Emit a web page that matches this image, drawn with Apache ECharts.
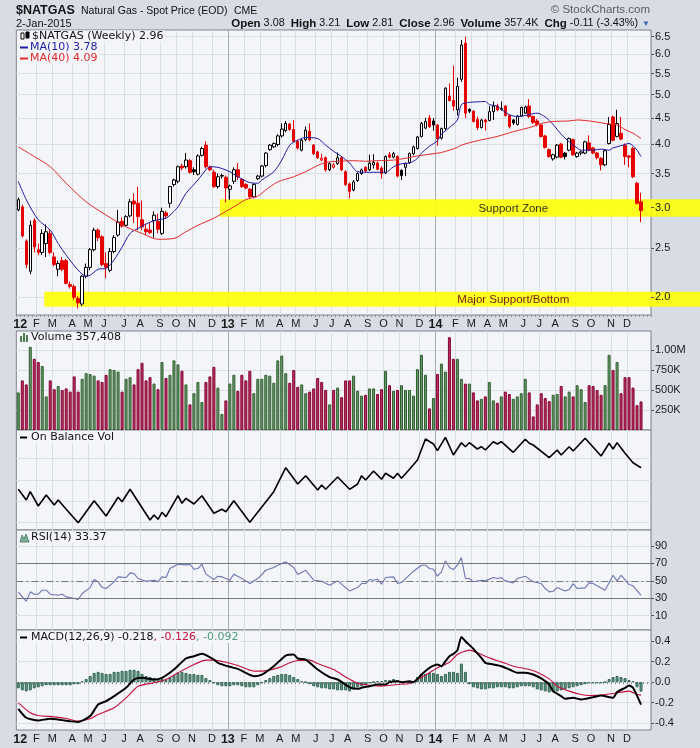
<!DOCTYPE html>
<html><head><meta charset="utf-8">
<script src="https://cdn.jsdelivr.net/npm/echarts@6/dist/echarts.min.js"></script>
<style>html,body{margin:0;padding:0;background:#d7dce5}#c{width:700px;height:748px}</style>
</head><body><div id="c"></div>
<script>
// ---- weekly OHLC, week 0 = 6-Jan-2012 ... week 156 = 2-Jan-2015
const opens = [2.97,3.01,2.58,2.25,2.83,2.48,2.45,2.55,2.67,2.40, 2.27,2.36,2.36,2.12,2.10,1.99,1.94,2.20,2.29,2.48, 2.71,2.63,2.33,2.26,2.46,2.65,2.82,2.77,2.89,3.09, 3.06,2.84,2.72,2.71,2.83,2.82,2.67,2.93,3.06,3.33, 3.38,3.62,3.61,3.71,3.56,3.49,3.80,3.98,3.60,3.52, 3.30,3.47,3.44,3.26,3.38,3.56,3.41,3.33,3.26,3.15, 3.42,3.46,3.63,3.90,3.95,3.99,4.15,4.25,4.38,4.27, 4.05,3.89,4.08,4.24,3.98,3.86,3.72,3.76,3.56,3.60, 3.66,3.76,3.53,3.34,3.25,3.39,3.50,3.60,3.56,3.64, 3.67,3.59,3.51,3.81,3.77,3.78,3.55,3.60,3.68,3.83, 3.92,4.14,4.30,4.50,4.44,4.36,4.11,4.29,4.97,4.87, 4.67,5.36,6.31,4.68,4.64,4.47,4.31,4.46,4.45,4.63, 4.75,4.68,4.75,4.55,4.46,4.37,4.54,4.60,4.75,4.53, 4.44,4.36,4.15,3.90,3.74,3.77,4.00,3.84,3.89,4.08, 3.78,3.84,3.84,4.02,3.93,3.84,3.75,3.64,4.01,4.52, 4.14,4.20,3.98,3.79,3.92,3.35,3.08];
const closes = [3.11,2.64,2.32,2.77,2.51,2.45,2.67,2.69,2.45,2.32, 2.33,2.27,2.13,2.10,2.00,1.95,2.20,2.29,2.48,2.71, 2.62,2.32,2.29,2.46,2.62,2.81,2.76,2.88,3.08,3.05, 2.88,2.75,2.69,2.68,2.90,2.72,2.95,2.89,3.30,3.40, 3.61,3.59,3.72,3.52,3.53,3.79,3.92,3.61,3.56,3.30, 3.45,3.46,3.28,3.31,3.56,3.45,3.30,3.28,3.15,3.33, 3.46,3.62,3.84,3.98,4.01,4.15,4.28,4.39,4.27,4.05, 3.93,4.07,4.26,4.08,3.83,3.76,3.75,3.56,3.66,3.64, 3.76,3.56,3.33,3.23,3.37,3.50,3.56,3.54,3.67,3.68, 3.57,3.50,3.78,3.77,3.83,3.46,3.47,3.66,3.83,3.95, 4.13,4.39,4.43,4.33,4.36,4.10,4.29,5.15,4.87,4.75, 5.19,6.26,4.60,4.64,4.43,4.31,4.46,4.42,4.63,4.75, 4.67,4.70,4.55,4.33,4.40,4.54,4.72,4.73,4.53,4.41, 4.37,4.14,3.94,3.78,3.81,3.98,3.77,3.78,4.10,3.81, 3.84,3.86,4.04,3.89,3.84,3.76,3.64,3.88,4.37,4.07, 4.39,4.09,3.78,3.77,3.45,3.06,2.96];
const lows = [2.95,2.62,2.28,2.22,2.45,2.42,2.42,2.40,2.43,2.30, 2.20,2.25,2.12,2.08,1.98,1.90,1.92,2.18,2.26,2.46, 2.58,2.30,2.18,2.24,2.44,2.63,2.74,2.75,2.87,2.80, 2.71,2.71,2.65,2.66,2.62,2.67,2.65,2.85,3.00,3.30, 3.35,3.55,3.58,3.50,3.48,3.47,3.78,3.58,3.54,3.28, 3.27,3.42,3.07,3.11,3.34,3.40,3.28,3.26,3.13,3.13, 3.40,3.44,3.60,3.88,3.93,3.96,4.12,4.22,4.25,4.03, 3.90,3.87,4.05,4.05,3.81,3.74,3.70,3.53,3.54,3.58, 3.64,3.54,3.31,3.13,3.23,3.37,3.48,3.52,3.54,3.58, 3.55,3.42,3.49,3.75,3.75,3.44,3.40,3.46,3.66,3.80, 3.90,4.12,4.28,4.30,4.25,3.97,4.08,4.25,4.85,4.65, 4.55,5.30,4.50,4.60,4.41,4.26,4.29,4.25,4.43,4.46, 4.64,4.65,4.53,4.29,4.36,4.35,4.52,4.58,4.50,4.38, 4.33,4.12,3.92,3.76,3.71,3.75,3.75,3.73,3.87,3.79, 3.76,3.80,3.82,3.87,3.82,3.73,3.55,3.62,3.99,4.05, 4.12,4.07,3.64,3.60,3.43,3.04,2.81];
const highs = [3.14,3.04,2.60,2.83,2.86,2.55,2.72,2.78,2.72,2.45, 2.36,2.40,2.38,2.15,2.12,2.01,2.21,2.33,2.50,2.74, 2.73,2.65,2.45,2.50,2.65,2.97,2.87,2.90,3.12,3.20, 3.30,3.10,2.79,2.80,2.95,2.92,3.00,2.96,3.31,3.42, 3.63,3.66,3.84,3.74,3.60,3.82,3.95,4.05,3.63,3.56, 3.50,3.50,3.47,3.33,3.60,3.67,3.43,3.35,3.28,3.35, 3.48,3.64,3.86,4.00,4.03,4.18,4.39,4.44,4.40,4.46, 4.08,4.10,4.33,4.39,4.00,3.88,3.83,3.78,3.68,3.67, 3.85,3.79,3.55,3.36,3.40,3.52,3.58,3.62,3.81,3.82, 3.70,3.62,3.80,3.86,3.86,3.80,3.57,3.68,3.85,3.97, 4.15,4.42,4.50,4.56,4.50,4.38,4.31,5.17,5.26,5.70, 5.40,6.40,6.50,4.70,4.66,4.53,4.48,4.48,4.75,4.85, 4.80,4.85,4.77,4.57,4.48,4.56,4.74,4.76,4.90,4.55, 4.48,4.38,4.17,3.92,3.83,4.00,4.02,3.86,4.12,4.10, 3.86,3.88,4.06,4.16,3.95,3.86,3.77,3.90,4.52,4.55, 4.67,4.52,4.01,3.81,3.95,3.37,3.21];
// weekly volume, millions
const volumes = [0.47,0.62,0.57,1.04,0.89,0.85,0.80,0.42,0.62,0.51, 0.55,0.50,0.52,0.48,0.67,0.48,0.64,0.71,0.70,0.68, 0.62,0.60,0.69,0.76,0.75,0.73,0.48,0.64,0.66,0.57, 0.76,0.84,0.62,0.66,0.58,0.51,0.85,0.65,0.69,0.87, 0.82,0.74,0.57,0.32,0.46,0.60,0.35,0.60,0.67,0.79, 0.53,0.20,0.37,0.58,0.69,0.49,0.69,0.62,0.74,0.46, 0.64,0.64,0.69,0.68,0.59,0.87,0.93,0.71,0.59,0.75, 0.54,0.57,0.46,0.48,0.52,0.65,0.60,0.50,0.32,0.50, 0.53,0.41,0.62,0.62,0.68,0.49,0.43,0.44,0.52,0.52, 0.45,0.51,0.74,0.56,0.49,0.50,0.56,0.50,0.50,0.43, 0.76,0.94,0.69,0.27,0.40,0.70,0.83,0.73,1.16,0.89, 0.89,0.64,0.58,0.58,0.47,0.37,0.39,0.42,0.60,0.37, 0.34,0.42,0.48,0.45,0.39,0.42,0.46,0.64,0.47,0.17, 0.32,0.46,0.40,0.36,0.44,0.45,0.55,0.42,0.48,0.42, 0.56,0.51,0.35,0.56,0.55,0.50,0.44,0.56,0.94,0.75, 0.85,0.46,0.66,0.66,0.53,0.31,0.357];
// moving averages: [week, value]
const ma10Pts = [[0,3.38],[2,3.11],[5,2.84],[8,2.71],[10,2.55],[12,2.42],[15,2.26],[17,2.20],[18,2.21],[20,2.27],[22,2.28],[24,2.37],[26,2.51],[28,2.67],[30,2.73],[33,2.81],[35,2.84],[37,2.86],[38,2.90],[40,3.01],[42,3.20],[45,3.40],[47,3.56],[48,3.61],[50,3.60],[53,3.53],[55,3.45],[58,3.36],[60,3.35],[61,3.40],[64,3.53],[66,3.72],[68,3.98],[70,4.07],[72,4.12],[75,4.10],[77,3.98],[79,3.87],[81,3.78],[83,3.67],[85,3.53],[88,3.52],[90,3.52],[92,3.52],[94,3.61],[96,3.66],[98,3.67],[100,3.75],[101,3.84],[103,3.96],[105,4.06],[106,4.18],[108,4.31],[110,4.46],[111,4.78],[113,4.83],[115,4.84],[117,4.85],[118,4.78],[120,4.75],[121,4.68],[123,4.57],[125,4.53],[127,4.55],[129,4.59],[130,4.60],[132,4.52],[134,4.37],[136,4.18],[138,4.04],[140,3.93],[141,3.89],[144,3.89],[146,3.91],[148,3.89],[149,3.93],[151,3.97],[153,4.01],[154,3.97],[155,3.89],[156,3.78]];
const ma40Pts = [[0,3.95],[4,3.78],[8,3.61],[12,3.35],[17,3.08],[22,2.90],[27,2.75],[31,2.67],[35,2.60],[39,2.61],[42,2.69],[45,2.77],[49,2.86],[52,2.95],[54,3.01],[57,3.11],[60,3.16],[62,3.25],[65,3.37],[69,3.45],[72,3.53],[75,3.63],[77,3.68],[80,3.70],[84,3.71],[87,3.70],[90,3.71],[94,3.72],[97,3.75],[100,3.79],[103,3.82],[106,3.85],[110,3.94],[111,3.98],[115,4.06],[120,4.14],[124,4.23],[129,4.33],[131,4.39],[134,4.43],[138,4.44],[140,4.46],[144,4.43],[147,4.39],[150,4.36],[152,4.27],[154,4.20],[156,4.10]];
// On Balance Volume (relative units, millions)
const obvPts = [[0,4.07],[2,3.0],[3,3.83],[5,2.4],[7,3.5],[9,2.5],[10,3.0],[12,2.07],[15,0.73],[19,2.93],[22,1.4],[25,3.27],[26,2.83],[28,4.07],[33,1.0],[34,1.5],[35,1.07],[36,1.77],[37,1.33],[40,3.43],[41,2.67],[42,3.17],[44,2.6],[46,3.43],[49,1.67],[51,2.07],[52,1.83],[54,2.93],[58,0.77],[64,3.83],[67,6.23],[70,4.6],[72,5.43],[75,4.0],[76,4.5],[77,4.07],[80,5.3],[83,4.07],[85,4.6],[86,5.43],[87,5.0],[89,5.9],[91,5.07],[92,5.67],[94,5.17],[95,5.67],[96,5.17],[98,6.07],[100,7.0],[102,9.1],[104,8.6],[105,7.93],[107,9.27],[109,7.5],[111,8.73],[112,8.33],[113,8.73],[115,8.1],[116,8.33],[117,8.0],[119,8.83],[120,8.6],[121,8.83],[124,7.77],[127,9.07],[128,8.67],[129,8.5],[133,7.23],[135,8.0],[136,7.5],[138,8.33],[139,7.9],[142,9.17],[146,7.4],[148,8.67],[149,8.1],[150,8.73],[152,7.67],[154,6.73],[156,6.23]];
const rsiPts = [[0,37.4],[1,31.6],[2,26.7],[3,37.4],[4,34.7],[5,34.7],[6,39.3],[7,39.3],[8,34.7],[10,33.5],[11,34.7],[12,31.6],[13,30.9],[15,28.6],[16,35.5],[18,42.3],[19,51.5],[20,48.9],[21,42.3],[22,41.2],[24,48.9],[25,54.6],[27,53.8],[28,59.2],[29,58.4],[30,52.7],[32,49.6],[34,50.8],[35,48.9],[36,54.6],[37,53.8],[38,64.2],[40,69.1],[42,68.4],[43,69.1],[44,63.4],[45,64.2],[46,69.1],[47,57.7],[49,51.5],[50,55.4],[51,54.6],[53,50.8],[54,57.7],[56,52.7],[57,50],[58,46.9],[60,52.7],[62,62.2],[64,65.3],[65,68.0],[67,71.8],[69,65.3],[70,57.3],[72,62.2],[74,50.8],[76,49.6],[78,45.0],[80,50],[83,38.5],[85,42.3],[86,46.9],[87,46.9],[88,51.5],[89,50.8],[90,51.9],[91,46.2],[92,53.8],[94,54.6],[95,46.9],[96,48.1],[99,61.1],[101,68.0],[102,68.0],[103,64.2],[104,63.4],[105,55.4],[106,60.3],[107,73.0],[108,65.3],[109,63.0],[110,68.0],[111,76.8],[112,52.7],[113,52.7],[114,48.9],[116,50.8],[117,50],[119,53.8],[120,52.7],[121,53.8],[122,50],[124,47.7],[125,52.7],[127,55.4],[129,48.9],[131,46.9],[132,41.2],[133,37.4],[134,38.1],[135,42.3],[137,38.5],[138,40.0],[139,46.9],[140,41.2],[142,42.0],[143,47.7],[144,46.9],[147,39.3],[149,56.5],[150,50],[151,56.5],[153,45.8],[154,44.3],[156,33.37]];
const macdPts = [[0,-0.259],[2,-0.346],[5,-0.372],[8,-0.356],[11,-0.369],[13,-0.379],[15,-0.388],[18,-0.330],[20,-0.217],[22,-0.184],[24,-0.136],[27,-0.055],[29,0.026],[31,0.042],[34,0.026],[36,0.042],[39,0.123],[42,0.230],[44,0.252],[46,0.275],[49,0.220],[50,0.188],[53,0.149],[55,0.129],[59,0.058],[61,0.074],[64,0.155],[67,0.259],[69,0.269],[70,0.230],[72,0.220],[75,0.123],[78,0.049],[80,0.026],[83,-0.05],[85,-0.065],[86,-0.055],[88,-0.039],[90,-0.023],[92,-0.023],[93,0.0],[95,0.01],[96,0],[98,0.01],[99,0],[100,0.032],[101,0.074],[103,0.139],[105,0.172],[106,0.155],[107,0.204],[108,0.252],[109,0.275],[110,0.311],[111,0.44],[112,0.398],[114,0.324],[116,0.236],[117,0.188],[119,0.172],[121,0.155],[123,0.123],[125,0.091],[127,0.091],[129,0.074],[131,0.036],[133,-0.023],[134,-0.087],[136,-0.136],[137,-0.162],[139,-0.152],[141,-0.168],[142,-0.162],[144,-0.146],[146,-0.129],[149,-0.152],[150,-0.097],[152,-0.055],[153,-0.032],[154,-0.055],[156,-0.218]];
const signalPts = [[0,-0.201],[3,-0.298],[5,-0.324],[9,-0.337],[12,-0.353],[15,-0.379],[18,-0.356],[20,-0.314],[24,-0.249],[27,-0.152],[30,-0.039],[34,-0.006],[37,0.026],[40,0.091],[44,0.172],[47,0.214],[49,0.214],[52,0.194],[55,0.162],[59,0.107],[61,0.107],[65,0.139],[68,0.188],[70,0.210],[73,0.214],[75,0.181],[79,0.123],[82,0.05],[85,-0.01],[88,-0.03],[91,-0.039],[95,-0.023],[98,-0.013],[100,0.026],[103,0.091],[105,0.139],[108,0.194],[110,0.269],[113,0.311],[115,0.285],[118,0.236],[121,0.197],[124,0.155],[128,0.123],[130,0.097],[133,0.032],[135,-0.039],[138,-0.087],[141,-0.120],[143,-0.129],[146,-0.126],[149,-0.110],[153,-0.087],[155,-0.12],[156,-0.126]];
const histVals = [-0.06,-0.08,-0.09,-0.08,-0.06,-0.05,-0.04,-0.03,-0.03,-0.03, -0.03,-0.03,-0.03,-0.03,-0.02,-0.02,0.01,0.03,0.06,0.09, 0.10,0.09,0.08,0.08,0.10,0.10,0.11,0.11,0.12,0.12, 0.11,0.08,0.06,0.05,0.04,0.03,0.03,0.02,0.04,0.07, 0.09,0.10,0.09,0.08,0.08,0.07,0.07,0.04,0.02,-0.01, -0.03,-0.04,-0.04,-0.04,-0.03,-0.03,-0.04,-0.05,-0.05,-0.05, -0.03,-0.01,0.02,0.04,0.06,0.07,0.08,0.08,0.07,0.05, 0.03,0.01,0.00,-0.02,-0.04,-0.05,-0.06,-0.06,-0.07,-0.07, -0.08,-0.08,-0.08,-0.09,-0.07,-0.05,-0.04,-0.03,-0.01,0.00, 0.01,0.01,0.02,0.02,0.03,0.02,0.01,0.01,0.00,0.01, 0.05,0.08,0.08,0.09,0.09,0.08,0.06,0.08,0.10,0.10, 0.09,0.18,0.10,-0.02,-0.05,-0.06,-0.07,-0.07,-0.06,-0.06, -0.05,-0.05,-0.05,-0.06,-0.06,-0.05,-0.04,-0.04,-0.04,-0.05, -0.07,-0.08,-0.09,-0.10,-0.10,-0.09,-0.08,-0.07,-0.06,-0.05, -0.04,-0.03,-0.02,-0.01,-0.01,-0.01,-0.01,0.00,0.03,0.05, 0.06,0.05,0.04,0.02,0.01,-0.05,-0.092];
// support zones
const zoneNames = ['Support Zone','Major Support/Bottom'];
const zoneTop = [3.115, 2.051];
const zoneBottom = [2.88, 1.917];
const zoneStart = [51, 7];
const zoneLabelAt = [124, 124];
// tick labels
const priceTicks = [2,2.5,3,3.5,4,4.5,5,5.5,6,6.5];
const volTicks = [0.25,0.5,0.75,1.0];
const obvLines = [0.73,2.87,5.0,7.13];
const rsiTicks = [10,30,50,70,90];
const macdTicks = [-0.4,-0.2,0,0.2,0.4];

// weekly category axis (2 trailing empty slots)
const N = 159;
const cats = [];
for (let k = 0; k < N; k++) { cats.push(new Date(Date.UTC(2012,0,6+7*k)).toISOString().slice(0,10)); }
const nData = closes.length;
function monthStart(i){ if(i<0||i>=nData-1) return false; if(i===0) return true; return cats[i].slice(5,7)!==cats[i-1].slice(5,7); }
function fmtMonth(v){ const m=+v.slice(5,7); return m===1 ? '{y|'+v.slice(2,4)+'}' : 'JFMAMJJASOND'[m-1]; }
const vColors = []; for (let k=0;k<12;k++) vColors.push(k===11?'#a8abb4':'#dcdee5');
const FONT = 'Liberation Sans';
const LF = 'DejaVu Sans';
const PANEL = '#f4f5f9';

function mkX(g, showLabel){
  return {type:'category', gridIndex:g, data:cats, boundaryGap:true,
    axisLine:{show:false},
    axisTick:{show:showLabel, interval:0, length:2, lineStyle:{color:'#8c8f98'}},
    axisLabel:{show:showLabel, interval:(i)=>monthStart(i), formatter:fmtMonth, margin:3, fontSize:11, color:'#1a1a1a', fontFamily:FONT, padding:[0,0,0,4],
      rich:{y:{fontWeight:'bold', fontSize:12.5, fontFamily:FONT, color:'#1a1a1a'}}},
    splitLine:{show:true, interval:(i)=>i>=2 && monthStart(i-1), lineStyle:{color:vColors, width:1}}
  };
}
const hLine = {show:true, lineStyle:{color:'#dcdee5', width:1}};
const rLabel = {fontSize:11, color:'#1a1a1a', fontFamily:FONT, margin:4};

const candleData = opens.map((o,i)=>{
  const c = closes[i];
  const prev = i>0 ? closes[i-1] : o;
  const col = c >= prev ? '#000000' : '#e60000';
  const fill = c >= o ? '#ffffff' : col;
  return {value:[o,c,lows[i],highs[i]], itemStyle:{color:fill,color0:fill,borderColor:col,borderColor0:col,borderWidth:1}};
});
const volData = volumes.map((v,i)=>{
  const up = i===0 ? closes[0]>=opens[0] : closes[i]>=closes[i-1];
  return {value:v, itemStyle:{color: up?'#6b9a6b':'#b73862', borderColor: up?'#2f5f2f':'#860030', borderWidth:1}};
});
const zoneData = zoneNames.map((_,k)=>[zoneStart[k], zoneTop[k], zoneBottom[k], zoneLabelAt[k]]);
const zoneTextColors = ['#33331a','#7a1c1c'];

function legText(x, y, text, fill, rich){
  const st = {text:text, fontSize:11, fontFamily:LF, fill:fill||'#111', verticalAlign:'middle', backgroundColor:PANEL, padding:[0,2,0,1]};
  if (rich) st.rich = rich;
  return {type:'text', x:x, y:y, z:100, style:st};
}
function g(el){ el.z = 100; return el; }

const option = {
  backgroundColor:'#d7dce5',
  animation:false,
  grid:[
    {left:16.3, right:49, top:30, height:285, show:true, backgroundColor:PANEL, borderColor:'#7d808a', borderWidth:1},
    {left:16.3, right:49, top:331, height:99, show:true, backgroundColor:PANEL, borderColor:'#7d808a', borderWidth:1},
    {left:16.3, right:49, top:430, height:100, show:true, backgroundColor:PANEL, borderColor:'#7d808a', borderWidth:1},
    {left:16.3, right:49, top:530, height:100, show:true, backgroundColor:PANEL, borderColor:'#7d808a', borderWidth:1},
    {left:16.3, right:49, top:630, height:100, show:true, backgroundColor:PANEL, borderColor:'#7d808a', borderWidth:1}
  ],
  xAxis:[mkX(0,true), mkX(1,false), mkX(2,false), mkX(3,false), mkX(4,true)],
  yAxis:[
    {type:'log', logBase:10, gridIndex:0, min:1.846, max:6.70, position:'right', axisLine:{show:false},
      axisTick:{show:false, customValues:priceTicks}, axisLabel:{show:false, customValues:priceTicks}, splitLine:hLine},
    {type:'log', logBase:10, gridIndex:0, min:1.846, max:6.70, position:'right', z:10, axisLine:{show:false},
      axisTick:{show:true, length:3, customValues:priceTicks, lineStyle:{color:'#555'}},
      axisLabel:Object.assign({customValues:priceTicks, formatter:(v)=>v.toFixed(1)}, rLabel), splitLine:{show:false}},
    {type:'value', gridIndex:1, min:0, max:1.2375, position:'right', axisLine:{show:false},
      axisTick:{show:true, length:3, customValues:volTicks, lineStyle:{color:'#555'}},
      axisLabel:Object.assign({customValues:volTicks, formatter:(v)=> v>=1 ? v.toFixed(2)+'M' : Math.round(v*1000)+'K'}, rLabel), splitLine:hLine},
    {type:'value', gridIndex:2, min:0, max:10, position:'right', axisLine:{show:false},
      axisTick:{show:false, customValues:obvLines}, axisLabel:{show:false, customValues:obvLines}, splitLine:hLine},
    {type:'value', gridIndex:3, min:-6.4, max:108.4, position:'right', axisLine:{show:false},
      axisTick:{show:true, length:3, customValues:rsiTicks, lineStyle:{color:'#555'}},
      axisLabel:Object.assign({customValues:rsiTicks}, rLabel), splitLine:hLine},
    {type:'value', gridIndex:4, min:-0.465, max:0.507, position:'right', axisLine:{show:false},
      axisTick:{show:true, length:3, customValues:macdTicks, lineStyle:{color:'#555'}},
      axisLabel:Object.assign({customValues:macdTicks, formatter:(v)=>v.toFixed(1)}, rLabel), splitLine:hLine}
  ],
  series:[
    {type:'custom', name:'zones', xAxisIndex:0, yAxisIndex:0, z:1, silent:true, clip:false,
      encode:{x:0, y:[1,2]}, data:zoneData,
      renderItem:(params, api)=>{
        const k = params.dataIndex;
        const p1 = api.coord([api.value(0), api.value(1)]);
        const p2 = api.coord([api.value(0), api.value(2)]);
        const bw = api.size([1,0])[0];
        const x0 = p1[0] - bw/2;
        const lab = api.coord([api.value(3), api.value(1)]);
        return {type:'group', children:[
          {type:'rect', shape:{x:x0, y:p1[1], width:api.getWidth()-x0, height:p2[1]-p1[1]}, style:{fill:'rgba(255,255,0,0.88)'}},
          {type:'text', x:lab[0], y:(p1[1]+p2[1])/2+0.5, style:{text:zoneNames[k], align:'center', verticalAlign:'middle', fill:zoneTextColors[k], fontSize:11.5, fontFamily:FONT}}
        ]};
      }},
    {type:'candlestick', name:'price', xAxisIndex:0, yAxisIndex:0, z:3, barWidth:3, data:candleData},
    {type:'line', name:'MA10', xAxisIndex:0, yAxisIndex:0, z:4, data:ma10Pts, showSymbol:false, smooth:0.3, lineStyle:{color:'#1c1ca6', width:1}},
    {type:'line', name:'MA40', xAxisIndex:0, yAxisIndex:0, z:4, data:ma40Pts, showSymbol:false, smooth:0.3, lineStyle:{color:'#e22a2a', width:1}},
    {type:'bar', name:'Volume', xAxisIndex:1, yAxisIndex:2, barWidth:3, data:volData},
    {type:'line', name:'OBV', xAxisIndex:2, yAxisIndex:3, data:obvPts, showSymbol:false, lineStyle:{color:'#000', width:1.6}},
    {type:'line', name:'RSI', xAxisIndex:3, yAxisIndex:4, data:rsiPts, showSymbol:false, lineStyle:{color:'#6b77b3', width:1.1},
      markLine:{silent:true, symbol:'none', label:{show:false}, animation:false,
        data:[{yAxis:70, lineStyle:{color:'#75777f', type:'solid', width:1}},{yAxis:30, lineStyle:{color:'#75777f', type:'solid', width:1}},{yAxis:50, lineStyle:{color:'#75777f', type:[7,3,2,3], width:1}}]}},
    {type:'bar', name:'Hist', xAxisIndex:4, yAxisIndex:5, barWidth:3, data:histVals, itemStyle:{color:'#6c9f89', borderColor:'#2d6450', borderWidth:1}},
    {type:'line', name:'Signal', xAxisIndex:4, yAxisIndex:5, data:signalPts, showSymbol:false, smooth:0.2, z:4, lineStyle:{color:'#c4103f', width:1.1}},
    {type:'line', name:'MACD', xAxisIndex:4, yAxisIndex:5, data:macdPts, showSymbol:false, smooth:0.2, z:5, lineStyle:{color:'#000', width:2}}
  ],
  graphic:[
    g({type:'text', x:16, y:11, style:{text:'$NATGAS', fontSize:12.5, fontWeight:'bold', fontFamily:FONT, fill:'#111', verticalAlign:'middle'}}),
    g({type:'text', x:81, y:11.5, style:{text:'Natural Gas - Spot Price (EOD)', fontSize:10.5, fontFamily:FONT, fill:'#111', verticalAlign:'middle'}}),
    g({type:'text', x:234, y:11.5, style:{text:'CME', fontSize:10.5, fontFamily:FONT, fill:'#111', verticalAlign:'middle'}}),
    g({type:'text', x:16, y:23.5, style:{text:'2-Jan-2015', fontSize:11, fontFamily:FONT, fill:'#111', verticalAlign:'middle'}}),
    g({type:'text', x:650, y:10, style:{text:'\u00a9 StockCharts.com', align:'right', fontSize:11.5, fontFamily:FONT, fill:'#5a5d66', verticalAlign:'middle'}}),
    g({type:'text', x:638, y:23.5, style:{text:'{b|Open} 3.08  {b|High} 3.21  {b|Low} 2.81  {b|Close} 2.96  {b|Volume} 357.4K  {b|Chg} -0.11 (-3.43%)', align:'right', verticalAlign:'middle', fontSize:10.8, fontFamily:FONT, fill:'#111',
      rich:{b:{fontSize:11.5, fontWeight:'bold', fontFamily:FONT, fill:'#111'}}}}),
    g({type:'text', x:646, y:23.5, style:{text:'\u25BC', align:'center', verticalAlign:'middle', fontSize:8, fill:'#3b68b5'}}),
    // panel legends
    g({type:'rect', shape:{x:18,y:31,width:13,height:10}, style:{fill:PANEL}}),
    g({type:'rect', shape:{x:21,y:33,width:3,height:6}, style:{fill:'#fff', stroke:'#000', lineWidth:1}}),
    g({type:'rect', shape:{x:26,y:32,width:3,height:6}, style:{fill:'#000', stroke:'#000', lineWidth:1}}),
    legText(31, 36, '$NATGAS (Weekly) 2.96'),
    g({type:'rect', shape:{x:18,y:42,width:12,height:11}, style:{fill:PANEL}}),
    g({type:'rect', shape:{x:20,y:46.5,width:8,height:2}, style:{fill:'#1c1ca6'}}),
    legText(29, 47.5, 'MA(10) 3.78', '#1c1ca6'),
    g({type:'rect', shape:{x:18,y:53,width:12,height:11}, style:{fill:PANEL}}),
    g({type:'rect', shape:{x:20,y:57.5,width:8,height:2}, style:{fill:'#e22a2a'}}),
    legText(29, 58.5, 'MA(40) 4.09', '#e22a2a'),
    g({type:'rect', shape:{x:18,y:332,width:13,height:11}, style:{fill:PANEL}}),
    g({type:'rect', shape:{x:20,y:336,width:2,height:6}, style:{fill:'#4e7f4e'}}),
    g({type:'rect', shape:{x:23,y:333,width:2,height:9}, style:{fill:'#4e7f4e'}}),
    g({type:'rect', shape:{x:26,y:335,width:2,height:7}, style:{fill:'#4e7f4e'}}),
    legText(30, 337.5, 'Volume 357,408'),
    g({type:'rect', shape:{x:18,y:432,width:13,height:11}, style:{fill:PANEL}}),
    g({type:'rect', shape:{x:20,y:436.5,width:7,height:2}, style:{fill:'#000'}}),
    legText(30, 437.5, 'On Balance Vol'),
    g({type:'rect', shape:{x:18,y:532,width:13,height:11}, style:{fill:PANEL}}),
    g({type:'polygon', shape:{points:[[20,542],[22,535],[24,539],[26,534],[29,542]]}, style:{fill:'#7fae98', stroke:'#3b7460', lineWidth:0.8}}),
    legText(30, 537.5, 'RSI(14) 33.37'),
    g({type:'rect', shape:{x:18,y:632,width:13,height:11}, style:{fill:PANEL}}),
    g({type:'rect', shape:{x:20,y:636.5,width:7,height:2}, style:{fill:'#000'}}),
    legText(30, 637.5, 'MACD(12,26,9) -0.218{r|, -0.126}{g|, -0.092}', '#111',
      {r:{fill:'#c4103f', fontSize:11, fontFamily:LF}, g:{fill:'#4f9a7c', fontSize:11, fontFamily:LF}})
  ]
};
const chart = echarts.init(document.getElementById('c'), null, {renderer:'canvas', width:700, height:748});
chart.setOption(option);
</script>
</body></html>
